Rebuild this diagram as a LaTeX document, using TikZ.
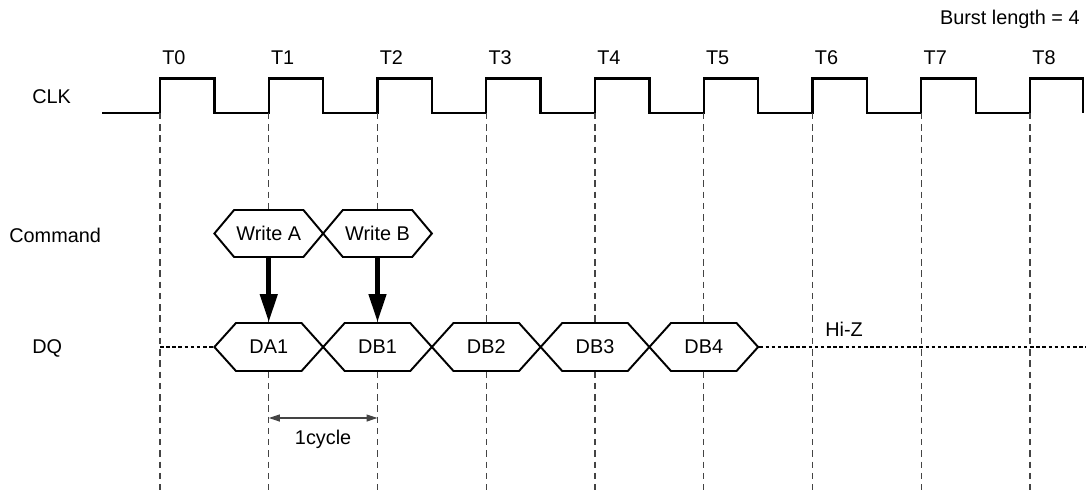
\documentclass[tikz,border=0pt]{standalone}
\usepackage{fontspec}
\setmainfont{Liberation Sans}
\usepackage{tikz}
\usetikzlibrary{arrows.meta,positioning,shapes.symbols}
\definecolor{tdgray}{HTML}{444444}

\begin{document}
\begin{tikzpicture}[
  font=\fontsize{11.3}{13.5}\selectfont,
  lab/.style={inner sep=0pt},
  clk/.style={line width=1.3pt, line join=miter},
  grid/.style={draw=tdgray, line width=0.65pt, dash pattern=on 3.6pt off 2.8pt},
  hiz/.style={line width=1.1pt, dash pattern=on 2pt off 1.5pt},
  cmd/.style={signal, signal to=east and west, signal pointer angle=100,
    draw, line width=1.1pt, fill=white, inner sep=0pt,
    minimum width=2.175cm, minimum height=0.94cm},
  dat/.style={cmd, signal pointer angle=96, minimum height=0.96cm},
  push/.style={-{Triangle[length=0.56cm, width=0.34cm]}, line width=2.6pt},
  span/.style={{Triangle[length=0.22cm, width=0.14cm]}-{Triangle[length=0.22cm, width=0.14cm]},
    line width=0.65pt, draw=tdgray},
]
\useasboundingbox (0,0) rectangle (21.72,9.86);

% clock
\draw[clk] (2.04,7.6) -- (3.2,7.6) coordinate (r0) -- ++(0,0.69) -- ++(1.0875,0) -- ++(0,-0.69)
  -- (5.375,7.6) coordinate (r1) -- ++(0,0.69) -- ++(1.0875,0) -- ++(0,-0.69)
  -- (7.55,7.6) coordinate (r2) -- ++(0,0.69) -- ++(1.0875,0) -- ++(0,-0.69)
  -- (9.725,7.6) coordinate (r3) -- ++(0,0.69) -- ++(1.0875,0) -- ++(0,-0.69)
  -- (11.9,7.6) coordinate (r4) -- ++(0,0.69) -- ++(1.0875,0) -- ++(0,-0.69)
  -- (14.075,7.6) coordinate (r5) -- ++(0,0.69) -- ++(1.0875,0) -- ++(0,-0.69)
  -- (16.25,7.6) coordinate (r6) -- ++(0,0.69) -- ++(1.0875,0) -- ++(0,-0.69)
  -- (18.425,7.6) coordinate (r7) -- ++(0,0.69) -- ++(1.0875,0) -- ++(0,-0.69)
  -- (20.6,7.6) coordinate (r8) -- ++(0,0.69) -- ++(1.06,0) -- ++(0,-0.69);

% cycle marks
\draw[grid] (r0) -- ++(0,-7.6);
\draw[grid] (r1) -- ++(0,-7.6);
\draw[grid] (r2) -- ++(0,-7.6);
\draw[grid] (r3) -- ++(0,-7.6);
\draw[grid] (r4) -- ++(0,-7.6);
\draw[grid] (r5) -- ++(0,-7.6);
\draw[grid] (r6) -- ++(0,-7.6);
\draw[grid] (r7) -- ++(0,-7.6);
\draw[grid] (r8) -- ++(0,-7.6);

\node[lab, anchor=west] (t0) at (3.24,8.71) {T0};
\node[lab, anchor=west] (t1) at (5.415,8.71) {T1};
\node[lab, anchor=west] (t2) at (7.59,8.71) {T2};
\node[lab, anchor=west] (t3) at (9.765,8.71) {T3};
\node[lab, anchor=west] (t4) at (11.94,8.71) {T4};
\node[lab, anchor=west] (t5) at (14.115,8.71) {T5};
\node[lab, anchor=west] (t6) at (16.29,8.71) {T6};
\node[lab, anchor=west] (t7) at (18.465,8.71) {T7};
\node[lab, anchor=west] (t8) at (20.64,8.71) {T8};
\node[lab, anchor=base east] (burst) at (21.6,9.37) {Burst length = 4};

% signal names
\node[lab, anchor=base west] (clkname) at (0.64,7.8) {CLK};
\node[lab, anchor=base west] (cmdname) at (0.18,5.02) {Command};
\node[lab, anchor=base west] (dqname) at (0.64,2.8) {DQ};

% data bus
\coordinate (qstart) at (3.2,2.92);
\coordinate (qend) at (21.72,2.92);
\node[dat] (da1) at (5.375,2.92) {DA1};
\node[dat] (db1) at (7.55,2.92) {DB1};
\node[dat] (db2) at (9.725,2.92) {DB2};
\node[dat] (db3) at (11.9,2.92) {DB3};
\node[dat] (db4) at (14.075,2.92) {DB4};
\draw[hiz] (qstart) -- (da1.west);
\draw[hiz] (db4.east) -- (qend);
\node[lab, anchor=base west] (hiz) at (16.5,3.14) {Hi-Z};

% commands
\node[cmd] (wa) at (5.375,5.19) {Write A};
\node[cmd] (wb) at (7.55,5.19) {Write B};
\draw[push] (wa.south) -- (da1.north);
\draw[push] (wb.south) -- (db1.north);

\coordinate (cyc1) at (5.375,1.5);
\coordinate (cyc2) at (7.55,1.5);
\draw[span] (cyc1) -- (cyc2) node[midway, below=3pt] {1cycle};
\end{tikzpicture}
\end{document}
